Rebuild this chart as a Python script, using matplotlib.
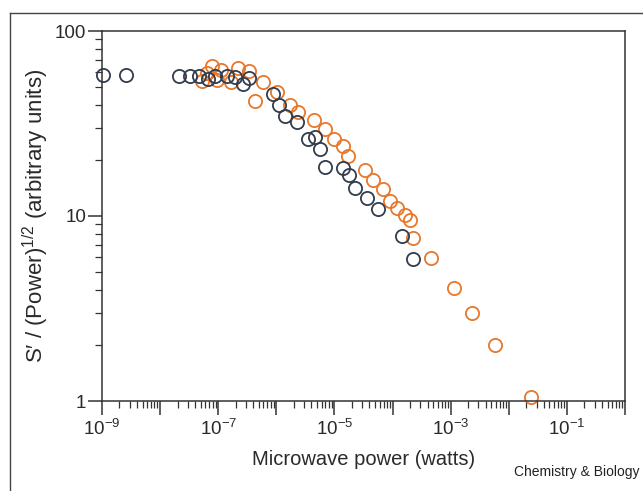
import matplotlib
matplotlib.use("Agg")
import matplotlib.pyplot as plt
from matplotlib.lines import Line2D
import numpy as np

plt.rcParams['font.family'] = ['Liberation Sans', 'DejaVu Sans']
plt.rcParams['mathtext.default'] = 'regular'

# dark (navy) series
power_dark = [1.04e-9, 2.6e-9, 2.14e-8, 3.31e-8, 4.73e-8, 6.78e-8, 8.95e-8, 1.39e-7,
              1.91e-7, 2.72e-7, 3.33e-7, 8.63e-7, 1.10e-6, 1.39e-6, 2.24e-6, 3.48e-6,
              4.58e-6, 5.6e-6, 6.82e-6, 1.40e-5, 1.77e-5, 2.25e-5, 3.63e-5, 5.62e-5,
              1.46e-4, 2.26e-4]
signal_dark = [57.8, 57.8, 57.2, 57.2, 57.2, 55.1, 57.2, 57.2,
               56.4, 51.8, 55.7, 45.6, 39.8, 34.8, 32.2, 26.1,
               26.7, 23.0, 18.4, 18.2, 16.7, 14.2, 12.5, 10.9,
               7.8, 5.86]

# orange series
power_orange = [5.33e-8, 6.5e-8, 7.94e-8, 9.68e-8, 1.13e-7, 1.63e-7, 2.23e-7, 3.33e-7,
                4.38e-7, 5.79e-7, 1.01e-6, 1.70e-6, 2.33e-6, 4.41e-6, 6.82e-6, 9.77e-6,
                1.40e-5, 1.70e-5, 3.35e-5, 4.6e-5, 6.86e-5, 9.06e-5, 1.2e-4, 1.64e-4,
                2.0e-4, 2.26e-4, 4.62e-4, 1.15e-3, 2.36e-3, 5.89e-3, 2.37e-2]
signal_orange = [53.7, 59.3, 64.7, 54.4, 61.5, 53.0, 63.1, 60.8,
                 41.9, 53.0, 46.8, 39.8, 36.5, 33.1, 29.5, 26.1,
                 23.9, 21.1, 17.7, 15.7, 14.0, 12.1, 11.0, 10.1,
                 9.5, 7.6, 5.93, 4.08, 2.99, 2.01, 1.05]

x_decades = [1e-9, 1e-8, 1e-7, 1e-6, 1e-5, 1e-4, 1e-3, 1e-2, 1e-1, 1e0]
x_labels = ['$10^{-9}$', '', '$10^{-7}$', '', '$10^{-5}$', '', '$10^{-3}$', '', '$10^{-1}$', '']
y_decades = [1, 10, 100]
y_labels = ['1', '10', '100']

fig = plt.figure(figsize=(6.43, 4.91), dpi=100)
ax = fig.add_axes([102/643, 1-401/491, (625-102)/643, (401-31)/491])

ax.plot(power_orange, signal_orange, 'o', ms=9.5, mfc='none', mec='#e8772a', mew=1.3, clip_on=False)
ax.plot(power_dark, signal_dark, 'o', ms=9.5, mfc='none', mec='#323c4c', mew=1.3, clip_on=False)

ax.set_xscale('log')
ax.set_yscale('log')
ax.set_xlim(1e-9, 1)
ax.set_ylim(1, 100)
ax.set_xticks(x_decades)
ax.set_xticklabels(x_labels)
ax.set_yticks(y_decades)
ax.set_yticklabels(y_labels)
ax.tick_params(which='major', direction='out', length=10, width=1.1, color='#333333',
               labelsize=13.5, labelcolor='#2a2a2a')
ax.tick_params(axis='y', which='major', pad=1.5)
ax.tick_params(axis='x', which='major', pad=3)
ax.tick_params(which='minor', direction='out', length=5, width=0.9, color='#333333')
for s in ax.spines.values():
    s.set_color('#333333')
    s.set_linewidth(1.1)

ax.set_xlabel('Microwave power (watts)', fontsize=14.5, labelpad=8, color='#2a2a2a')
ax.set_ylabel('S\u2032 / (Power)$^{1/2}$ (arbitrary units)', fontsize=16, color='#2a2a2a')
ax.yaxis.set_label_coords(51/643, 1-216/491, transform=fig.transFigure)

fig.text(640/643, 1-472/491, 'Chemistry & Biology', fontsize=10, ha='right', va='center',
         color='#222222')

# outer frame of the scanned figure
fig.add_artist(Line2D([10/643, 10/643], [0, 1-13/491], transform=fig.transFigure,
                      color='#444444', lw=1.0))
fig.add_artist(Line2D([10/643, 1], [1-13/491, 1-13/491], transform=fig.transFigure,
                      color='#444444', lw=1.0))

fig.savefig('out.png', dpi=100)
